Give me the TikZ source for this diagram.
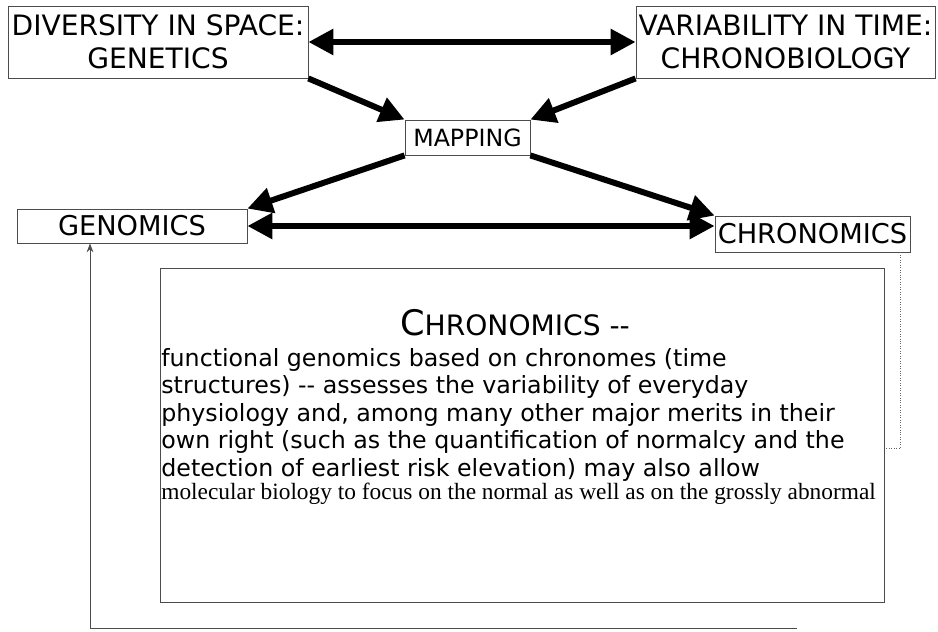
\documentclass[tikz,border=0pt]{standalone}
\usepackage{fontspec}
\setmainfont{DejaVu Sans}
\newfontfamily\timesfont{Liberation Serif}
\usetikzlibrary{arrows.meta}

\begin{document}
\begin{tikzpicture}
[x=0.02cm, y=-0.02cm,
 box/.style={draw=black!70, line width=0.5pt, inner sep=0pt, align=center},
 bigarrow/.style={line width=3.4pt, -{Triangle[length=0.5cm,width=0.5cm]}},
 twoarrow/.style={line width=3.4pt, {Triangle[length=0.5cm,width=0.5cm]}-{Triangle[length=0.5cm,width=0.5cm]}}]
\useasboundingbox (0,0) rectangle (938,632);

% the five boxes
\node [box, minimum width=6cm, minimum height=1.44cm, font=\fontsize{16}{18.5}\selectfont]
  (genetics) at (158,42) {DIVERSITY IN SPACE:\\GENETICS};
\node [box, minimum width=5.98cm, minimum height=1.44cm, font=\fontsize{16}{18.5}\selectfont]
  (chrono) at (785.5,42) {VARIABILITY IN TIME:\\CHRONOBIOLOGY};
\node [box, minimum width=2.5cm, minimum height=0.7cm, font=\fontsize{13.5}{15}\selectfont]
  (mapping) at (467.5,137.5) {MAPPING};
\node [box, minimum width=4.6cm, minimum height=0.68cm, font=\fontsize{15.5}{18}\selectfont]
  (genomics) at (132,226) {GENOMICS};
\node [box, minimum width=3.9cm, minimum height=0.72cm, font=\fontsize{15.5}{18}\selectfont]
  (chronomics) at (812.5,234) {CHRONOMICS};

% definition box
\node [box, minimum width=14.5cm, minimum height=6.68cm] (defbox) at (522.5,435) {};
\node [anchor=base] (deftitle) at (515,335)
  {{\fontsize{20}{22}\selectfont C}{\fontsize{16}{18}\selectfont HRONOMICS -{}-}};
\node [anchor=base west, inner sep=0pt, align=left, font=\fontsize{13.5}{15.6}\selectfont]
  (deftext) at (161,499)
  {functional genomics based on chronomes (time\\
   structures) -{}- assesses the variability of everyday\\
   physiology and, among many other major merits in their\\
   own right (such as the quantification of normalcy and the\\
   detection of earliest risk elevation) may also allow\\[-2.6pt]
   {\timesfont\fontsize{13.3}{15}\selectfont molecular biology to focus on the normal as well as on the grossly abnormal}};

% thick arrows
\draw [twoarrow] (genetics.east) -- (chrono.west);
\draw [bigarrow] (genetics.south east) -- (mapping.north west);
\draw [bigarrow] (chrono.south west) -- (mapping.north east);
\draw [bigarrow] (mapping.south west) -- (genomics.north east);
\draw [bigarrow] (mapping.south east) -- (chronomics.north west);
\draw [twoarrow] (genomics.east) -- (genomics.east -| chronomics.west);

% thin links
\draw [densely dotted, black!60] ([xshift=-0.2cm]chronomics.south east)
  |- ([yshift=-0.26cm]defbox.east);
\coordinate (loopend) at (797,628);
\coordinate (loopcorner) at (90,628);
\draw [black!70, -{Stealth[length=5pt]}] (loopend) -- (loopcorner) -- (loopcorner |- genomics.south);
\end{tikzpicture}
\end{document}
